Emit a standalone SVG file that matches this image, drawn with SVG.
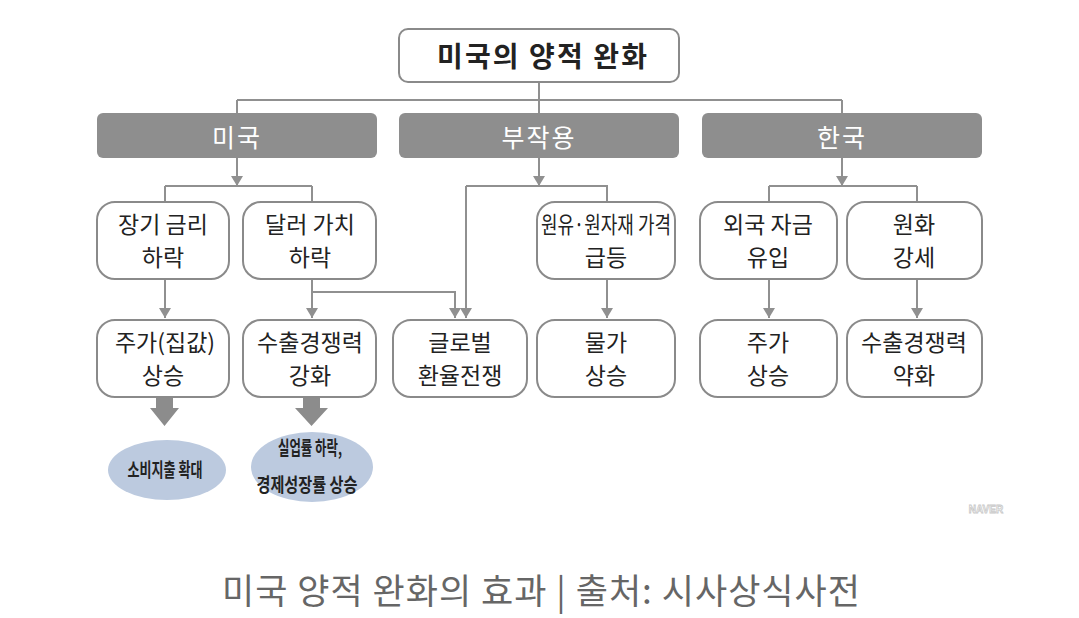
<svg xmlns="http://www.w3.org/2000/svg" width="1079" height="618" viewBox="0 0 1079 618">
<style>
.box{fill:#fff;stroke:#8a8a8a;stroke-width:2}
.gbox{fill:#8e8e8e}
.t{font-family:"Noto Sans CJK KR","Noto Sans",sans-serif;font-size:23px;fill:#222;text-anchor:middle;dominant-baseline:central}
.gt{font-family:"Noto Sans CJK KR","Noto Sans",sans-serif;font-size:25px;fill:#fff;text-anchor:middle;dominant-baseline:central;letter-spacing:2px}
.et{font-family:"Noto Sans CJK KR","Noto Sans",sans-serif;font-size:19px;font-weight:700;fill:#222;text-anchor:middle;dominant-baseline:central}
.ln{fill:none;stroke:#909090;stroke-width:2}
.ar{fill:none;stroke:#909090;stroke-width:2;marker-end:url(#ah)}
.big{fill:#8c8c8c}
.ell{fill:#bccadf}
</style>
<defs>
<marker id="ah" viewBox="0 0 10 12" refX="10" refY="6" markerWidth="5" markerHeight="6" orient="auto" markerUnits="strokeWidth">
<path d="M0,0 L10,6 L0,12 z" fill="#909090"/>
</marker>
</defs>
<rect width="1079" height="618" fill="#fff"/>

<g id="connectors">
<path class="ln" d="M539,82 V100 M237,100 H842 M237,100 V113 M539,100 V113 M842,100 V113"/>
<path class="ar" d="M237,158 V186"/>
<path class="ln" d="M165,186 H312 M165,186 V202 M312,186 V202"/>
<path class="ar" d="M539,158 V186"/>
<path class="ln" d="M466,186 H607 V202"/>
<path class="ar" d="M466,186 V318"/>
<path class="ar" d="M842,158 V186"/>
<path class="ln" d="M769,186 H917 M769,186 V202 M917,186 V202"/>
<path class="ar" d="M165,279 V318"/>
<path class="ar" d="M312,279 V318"/>
<path class="ar" d="M312,292 H455 V318"/>
<path class="ar" d="M607,279 V318"/>
<path class="ar" d="M769,279 V318"/>
<path class="ar" d="M917,279 V318"/>
<polygon class="big" points="156,397 173,397 173,408 179,408 164.5,426 150,408 156,408"/>
<polygon class="big" points="303,397 320,397 320,408 328,408 311.5,426 295,408 303,408"/>
</g>

<g id="n-title">
<rect class="box" x="399" y="29" width="280" height="53" rx="9"/>
<text x="542" y="55" class="t" style="font-size:28px;font-weight:700" textLength="210" lengthAdjust="spacing">미국의 양적 완화</text>
</g>

<g id="n-usa"><rect class="gbox" x="97" y="113" width="280" height="45" rx="6"/><text class="gt" x="237" y="136">미국</text></g>
<g id="n-side"><rect class="gbox" x="399" y="113" width="280" height="45" rx="6"/><text class="gt" x="539" y="136">부작용</text></g>
<g id="n-korea"><rect class="gbox" x="702" y="113" width="280" height="45" rx="6"/><text class="gt" x="842" y="136">한국</text></g>

<g id="n-rate"><rect class="box" x="97" y="202" width="132" height="77" rx="18"/><text class="t" x="163" y="223">장기 금리</text><text class="t" x="163" y="256">하락</text></g>
<g id="n-dollar"><rect class="box" x="243" y="202" width="133" height="77" rx="18"/><text class="t" x="310" y="223">달러 가치</text><text class="t" x="310" y="256">하락</text></g>
<g id="n-oil"><rect class="box" x="537" y="202" width="138" height="77" rx="18"/><text class="t" x="606" y="223" textLength="130" lengthAdjust="spacingAndGlyphs">원유·원자재 가격</text><text class="t" x="606" y="256">급등</text></g>
<g id="n-inflow"><rect class="box" x="700" y="202" width="137" height="77" rx="18"/><text class="t" x="768" y="223">외국 자금</text><text class="t" x="768" y="256">유입</text></g>
<g id="n-won"><rect class="box" x="847" y="202" width="135" height="77" rx="18"/><text class="t" x="914" y="223">원화</text><text class="t" x="914" y="256">강세</text></g>

<g id="n-stock"><rect class="box" x="97" y="320" width="132" height="77" rx="18"/><text class="t" x="165" y="341">주가(집값)</text><text class="t" x="163" y="374">상승</text></g>
<g id="n-export"><rect class="box" x="243" y="320" width="133" height="77" rx="18"/><text class="t" x="310" y="341">수출경쟁력</text><text class="t" x="310" y="374">강화</text></g>
<g id="n-fx"><rect class="box" x="393" y="320" width="134" height="77" rx="18"/><text class="t" x="460" y="341">글로벌</text><text class="t" x="460" y="374">환율전쟁</text></g>
<g id="n-price"><rect class="box" x="537" y="320" width="138" height="77" rx="18"/><text class="t" x="606" y="341">물가</text><text class="t" x="606" y="374">상승</text></g>
<g id="n-kstock"><rect class="box" x="700" y="320" width="137" height="77" rx="18"/><text class="t" x="768" y="341">주가</text><text class="t" x="768" y="374">상승</text></g>
<g id="n-kexport"><rect class="box" x="847" y="320" width="135" height="77" rx="18"/><text class="t" x="914" y="341">수출경쟁력</text><text class="t" x="914" y="374">약화</text></g>

<g id="n-consume"><ellipse class="ell" cx="167" cy="470" rx="59" ry="30"/><text class="et" x="165" y="468" textLength="75" lengthAdjust="spacingAndGlyphs">소비지출 확대</text></g>
<g id="n-growth"><ellipse class="ell" cx="312" cy="467" rx="61" ry="35"/><text class="et" x="310" y="446" textLength="64" lengthAdjust="spacingAndGlyphs">실업률 하락,</text><text class="et" x="307" y="483" textLength="101" lengthAdjust="spacingAndGlyphs">경제성장률 상승</text></g>

<text x="986" y="509" font-family="Liberation Sans, sans-serif" font-size="10" font-weight="700" fill="#fff" stroke="#c8c8c8" stroke-width="0.8" text-anchor="middle" dominant-baseline="central">NAVER</text>

<text x="541" y="588" font-family="Noto Sans CJK KR, Noto Sans, sans-serif" font-size="35" fill="#666" text-anchor="middle" dominant-baseline="central" textLength="638" lengthAdjust="spacing">미국 양적 완화의 효과 | 출처: 시사상식사전</text>
</svg>
